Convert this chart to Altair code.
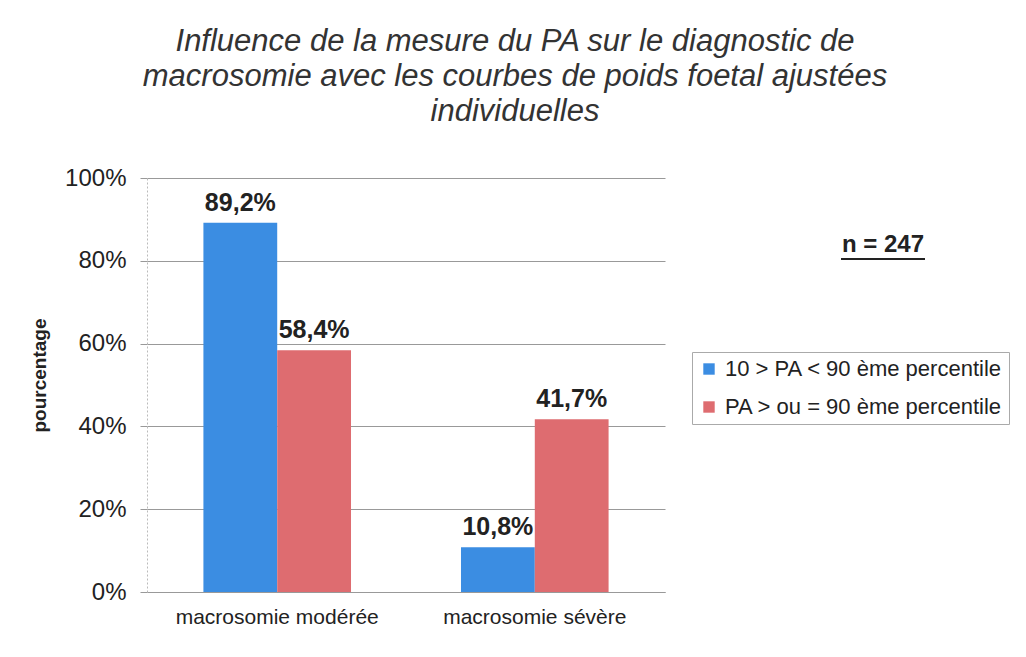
import altair as alt
import pandas as pd

categories = ["macrosomie modérée", "macrosomie modérée", "macrosomie sévère", "macrosomie sévère"]
series = ["10 > PA < 90 ème percentile", "PA > ou = 90 ème percentile",
          "10 > PA < 90 ème percentile", "PA > ou = 90 ème percentile"]
values = [89.2, 58.4, 10.8, 41.7]
series_order = ["10 > PA < 90 ème percentile", "PA > ou = 90 ème percentile"]
colors = ["#3b8de2", "#de6c70"]

df = pd.DataFrame({"cat": categories, "serie": series, "val": values})
df["lab"] = df["val"].map(lambda v: f"{v:.1f}".replace(".", ",") + "%")

FONT = "Liberation Sans"

x = alt.X("cat:N", title=None, sort=None,
          scale=alt.Scale(paddingInner=0.427, paddingOuter=0.219),
          axis=alt.Axis(labelAngle=0, labelFontSize=21, labelColor="#222", labelFont=FONT,
                        labelLimit=400, ticks=False, labelPadding=14,
                        domainColor="#999", domainWidth=1))
xo = alt.XOffset("serie:N", sort=series_order)
y = alt.Y("val:Q", title="pourcentage",
          scale=alt.Scale(domain=[0, 100]),
          axis=alt.Axis(values=[0, 20, 40, 60, 80, 100], labelExpr="datum.value + '%'",
                        labelFontSize=24, labelColor="#222", labelFont=FONT,
                        tickSize=7, tickColor="#999", labelPadding=14,
                        gridColor="#999", gridWidth=1, domainColor="#bbb", domainDash=[2, 2],
                        titleFontSize=19, titleFont=FONT, titleFontWeight="bold",
                        titleColor="#222", titlePadding=15, titleY=197))

bars = alt.Chart(df).mark_bar().encode(
    x=x, xOffset=xo, y=y,
    color=alt.Color("serie:N", sort=series_order,
                    scale=alt.Scale(domain=series_order, range=colors),
                    legend=alt.Legend(title=None, orient="none", legendX=545, legendY=174,
                                      labelFontSize=22, labelFont=FONT, labelColor="#222",
                                      symbolType="square", symbolSize=130, symbolStrokeWidth=0,
                                      labelLimit=400, rowPadding=16, padding=6,
                                      strokeColor="#aaa", fillColor="white", labelOffset=5)),
)

labels = alt.Chart(df).mark_text(baseline="bottom", dy=-7, fontSize=25, fontWeight="bold",
                                 font=FONT, color="#222").encode(
    x=x, xOffset=xo, y=y, text="lab:N")

nlab = alt.Chart(pd.DataFrame({"t": ["n = 247"]})).mark_text(
    fontSize=24, fontWeight="bold", font=FONT, color="#222", baseline="alphabetic").encode(
    x=alt.value(736), y=alt.value(74), text="t:N")
nline = alt.Chart(pd.DataFrame({"t": ["n = 247"]})).mark_rule(color="#222", strokeWidth=2).encode(
    x=alt.value(694), x2=alt.value(778), y=alt.value(81))

chart = alt.layer(bars, labels, nlab, nline).properties(
    width=518, height=414,
    autosize=alt.AutoSizeParams(type="none"),
    padding={"left": 139, "top": 170, "right": 353, "bottom": 57},
    title=alt.TitleParams(
        ["Influence de la mesure du PA sur le diagnostic de",
         "macrosomie avec les courbes de poids foetal ajustées",
         "individuelles"],
        fontSize=31, font=FONT, fontStyle="italic", fontWeight="normal", color="#333",
        lineHeight=35, anchor="middle", dx=109, offset=38),
).configure_view(stroke=None)

chart.save("out.html", embed_options={"renderer": "svg", "actions": False})
